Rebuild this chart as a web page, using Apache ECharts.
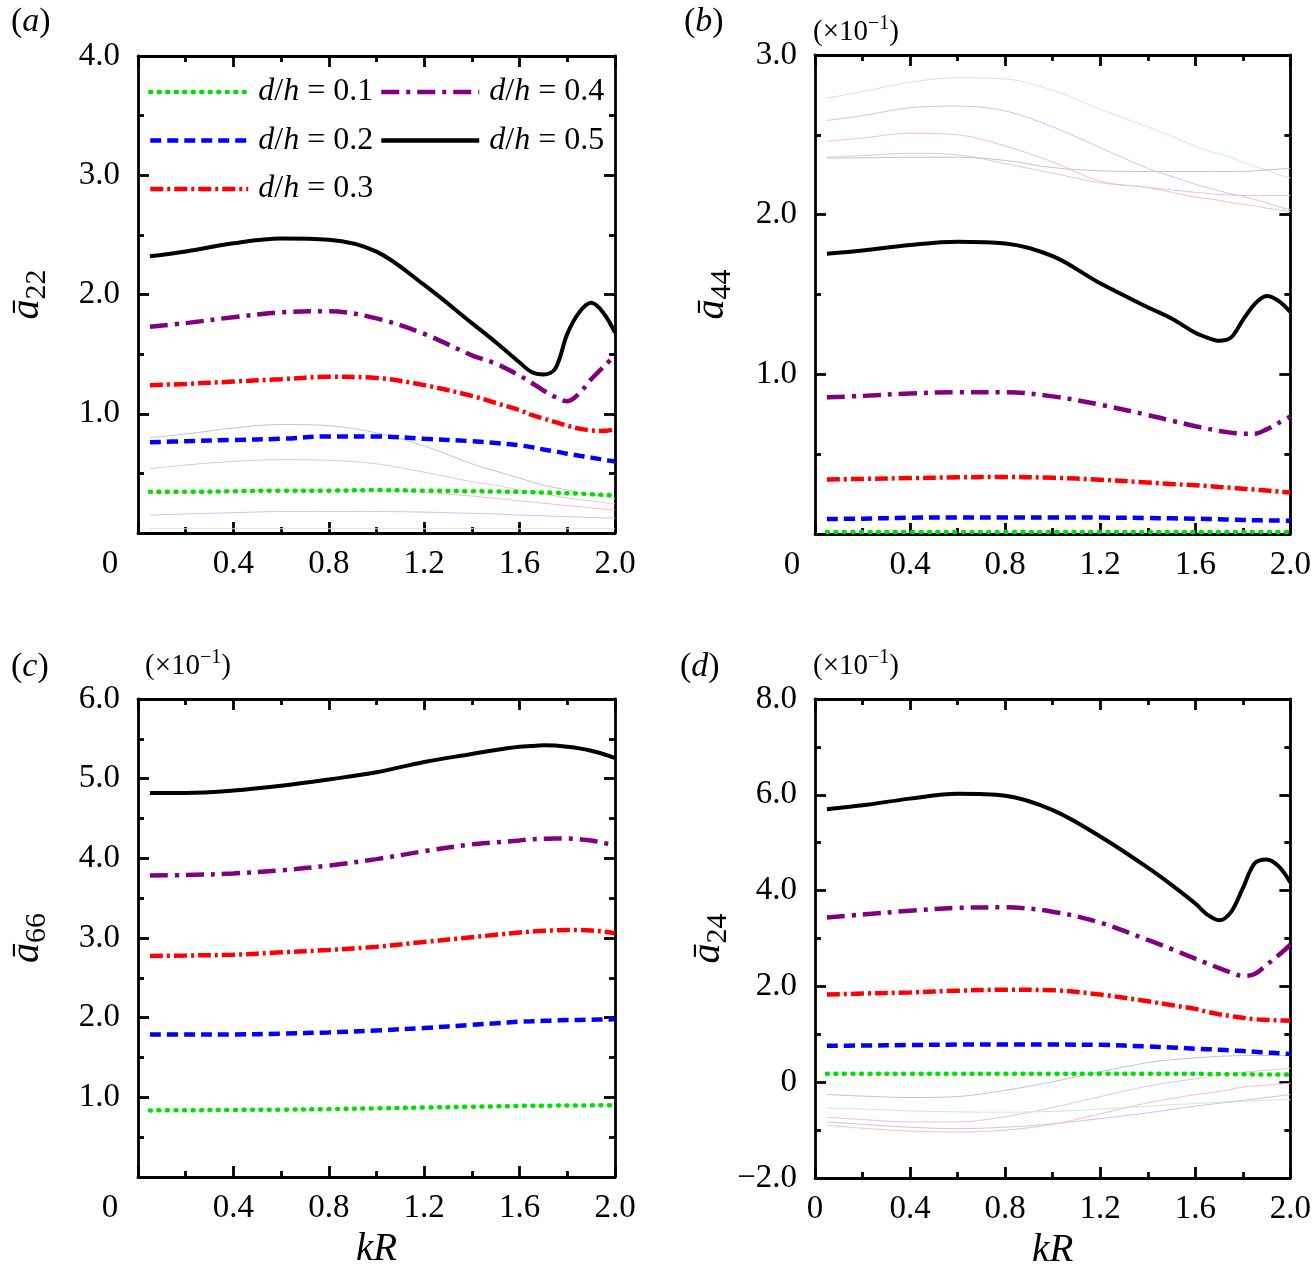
<!DOCTYPE html>
<html>
<head>
<meta charset="UTF-8">
<title>added mass coefficients vs kR</title>
<script src="https://cdn.jsdelivr.net/npm/echarts@6/dist/echarts.min.js"></script>
<style>
  html, body { margin: 0; padding: 0; background: #fff; }
  #main { width: 1314px; height: 1277px; }
</style>
</head>
<body>
<div id="main"></div>
<script>
// kR sample points shared by every curve
var kR = [0.05, 0.2, 0.4, 0.6, 0.8, 1.0, 1.2, 1.4, 1.5, 1.6, 1.65, 1.7, 1.75, 1.8, 1.85, 1.9, 1.95, 2.0];

// (a) a22
var a22_d01 = [0.345, 0.345, 0.35, 0.355, 0.355, 0.36, 0.355, 0.35, 0.348, 0.345, 0.342, 0.34, 0.337, 0.334, 0.33, 0.325, 0.32, 0.315];
var a22_d02 = [0.76, 0.77, 0.78, 0.79, 0.81, 0.81, 0.79, 0.77, 0.755, 0.735, 0.72, 0.70, 0.685, 0.665, 0.648, 0.632, 0.615, 0.60];
var a22_d03 = [1.24, 1.25, 1.27, 1.29, 1.31, 1.30, 1.24, 1.15, 1.09, 1.03, 0.99, 0.96, 0.93, 0.90, 0.875, 0.86, 0.855, 0.87];
var a22_d04 = [1.73, 1.76, 1.81, 1.85, 1.86, 1.80, 1.67, 1.49, 1.42, 1.32, 1.26, 1.195, 1.14, 1.105, 1.17, 1.29, 1.39, 1.49];
var a22_d05 = [2.32, 2.36, 2.43, 2.47, 2.46, 2.36, 2.08, 1.76, 1.60, 1.43, 1.35, 1.33, 1.38, 1.67, 1.85, 1.93, 1.85, 1.68];
// faint traces visible in (a)
var a22_gk = [0.80, 0.83, 0.88, 0.91, 0.90, 0.84, 0.73, 0.58, 0.52, 0.46, 0.43, 0.40, 0.38, 0.36, 0.34, 0.32, 0.305, 0.29];
var a22_gp = [0.54, 0.57, 0.60, 0.615, 0.61, 0.58, 0.51, 0.43, 0.40, 0.36, 0.345, 0.33, 0.31, 0.295, 0.28, 0.27, 0.255, 0.245];
var a22_gr = [0.33, 0.34, 0.35, 0.36, 0.36, 0.36, 0.34, 0.31, 0.29, 0.27, 0.26, 0.25, 0.24, 0.23, 0.22, 0.21, 0.20, 0.195];
var a22_gb = [0.15, 0.16, 0.17, 0.18, 0.18, 0.18, 0.175, 0.165, 0.16, 0.15, 0.148, 0.145, 0.14, 0.137, 0.134, 0.13, 0.127, 0.125];
var a22_gg = [0.036, 0.036, 0.036, 0.036, 0.036, 0.036, 0.036, 0.036, 0.036, 0.036, 0.036, 0.036, 0.036, 0.036, 0.036, 0.036, 0.036, 0.036];

// (b) a44, x10^-1
var a44_d01 = [0.012, 0.012, 0.012, 0.012, 0.012, 0.012, 0.012, 0.012, 0.012, 0.012, 0.012, 0.012, 0.012, 0.012, 0.012, 0.012, 0.012, 0.012];
var a44_d02 = [0.094, 0.096, 0.102, 0.104, 0.104, 0.104, 0.103, 0.10, 0.098, 0.096, 0.094, 0.092, 0.09, 0.088, 0.086, 0.085, 0.084, 0.083];
var a44_d03 = [0.341, 0.345, 0.35, 0.355, 0.357, 0.352, 0.34, 0.322, 0.313, 0.305, 0.30, 0.295, 0.29, 0.284, 0.278, 0.272, 0.266, 0.26];
var a44_d04 = [0.856, 0.865, 0.88, 0.888, 0.888, 0.862, 0.81, 0.745, 0.71, 0.675, 0.66, 0.645, 0.635, 0.628, 0.628, 0.655, 0.695, 0.736];
var a44_d05 = [1.755, 1.775, 1.81, 1.83, 1.82, 1.74, 1.57, 1.42, 1.35, 1.26, 1.23, 1.21, 1.23, 1.34, 1.44, 1.49, 1.46, 1.39];
var a44_gg = [2.73, 2.77, 2.83, 2.857, 2.85, 2.78, 2.66, 2.55, 2.49, 2.43, 2.40, 2.38, 2.36, 2.33, 2.30, 2.28, 2.25, 2.23];
var a44_gb = [2.59, 2.62, 2.67, 2.68, 2.65, 2.55, 2.42, 2.29, 2.24, 2.19, 2.17, 2.15, 2.13, 2.115, 2.095, 2.075, 2.05, 2.03];
var a44_gr = [2.46, 2.48, 2.51, 2.50, 2.43, 2.33, 2.21, 2.17, 2.14, 2.11, 2.10, 2.09, 2.075, 2.065, 2.055, 2.04, 2.03, 2.02];
var a44_gp = [2.36, 2.37, 2.385, 2.375, 2.32, 2.26, 2.20, 2.172, 2.155, 2.14, 2.133, 2.127, 2.123, 2.12, 2.12, 2.12, 2.12, 2.12];
var a44_gk = [2.354, 2.356, 2.36, 2.36, 2.34, 2.295, 2.275, 2.27, 2.27, 2.27, 2.27, 2.27, 2.27, 2.27, 2.275, 2.28, 2.285, 2.29];

// (c) a66, x10^-1
var a66_d01 = [0.836, 0.838, 0.842, 0.845, 0.852, 0.862, 0.872, 0.882, 0.887, 0.892, 0.894, 0.895, 0.896, 0.897, 0.898, 0.899, 0.90, 0.90];
var a66_d02 = [1.79, 1.79, 1.79, 1.80, 1.815, 1.84, 1.87, 1.91, 1.93, 1.95, 1.955, 1.96, 1.965, 1.97, 1.972, 1.975, 1.977, 1.98];
var a66_d03 = [2.774, 2.78, 2.79, 2.82, 2.85, 2.89, 2.95, 3.01, 3.04, 3.07, 3.08, 3.09, 3.095, 3.10, 3.10, 3.095, 3.08, 3.06];
var a66_d04 = [3.784, 3.79, 3.81, 3.85, 3.91, 3.99, 4.09, 4.175, 4.20, 4.225, 4.24, 4.245, 4.25, 4.25, 4.24, 4.225, 4.195, 4.16];
var a66_d05 = [4.82, 4.82, 4.85, 4.91, 4.99, 5.08, 5.21, 5.31, 5.36, 5.40, 5.41, 5.42, 5.415, 5.40, 5.38, 5.35, 5.31, 5.26];

// (d) a24, x10^-1
var a24_d01 = [0.175, 0.175, 0.175, 0.175, 0.175, 0.175, 0.175, 0.175, 0.175, 0.175, 0.172, 0.17, 0.167, 0.165, 0.163, 0.162, 0.161, 0.16];
var a24_d02 = [0.76, 0.765, 0.775, 0.785, 0.785, 0.785, 0.78, 0.745, 0.725, 0.70, 0.69, 0.678, 0.665, 0.65, 0.635, 0.62, 0.605, 0.59];
var a24_d03 = [1.83, 1.85, 1.875, 1.91, 1.93, 1.92, 1.83, 1.69, 1.61, 1.53, 1.47, 1.42, 1.38, 1.345, 1.315, 1.30, 1.29, 1.285];
var a24_d04 = [3.44, 3.50, 3.58, 3.64, 3.65, 3.56, 3.33, 2.97, 2.78, 2.58, 2.48, 2.38, 2.29, 2.22, 2.26, 2.45, 2.65, 2.87];
var a24_d05 = [5.70, 5.78, 5.92, 6.02, 5.98, 5.68, 5.13, 4.48, 4.12, 3.73, 3.50, 3.38, 3.55, 4.05, 4.57, 4.65, 4.51, 4.17];
var a24_gk = [-0.256, -0.29, -0.32, -0.30, -0.17, 0.01, 0.22, 0.41, 0.47, 0.51, 0.525, 0.54, 0.55, 0.555, 0.56, 0.56, 0.56, 0.56];
var a24_gp = [-0.73, -0.78, -0.83, -0.83, -0.72, -0.53, -0.30, -0.08, 0.0, 0.07, 0.11, 0.15, 0.18, 0.21, 0.23, 0.25, 0.27, 0.29];
var a24_gg = [-0.54, -0.56, -0.60, -0.62, -0.625, -0.61, -0.56, -0.50, -0.47, -0.445, -0.43, -0.42, -0.41, -0.40, -0.39, -0.38, -0.37, -0.365];
var a24_gb = [-0.83, -0.88, -0.94, -0.97, -0.94, -0.87, -0.76, -0.64, -0.57, -0.50, -0.47, -0.44, -0.41, -0.38, -0.35, -0.32, -0.29, -0.256];
var a24_gr = [-0.90, -0.96, -1.02, -1.04, -1.00, -0.88, -0.66, -0.43, -0.34, -0.26, -0.23, -0.19, -0.15, -0.10, -0.08, -0.06, -0.04, -0.02];

var dhNames = ['0.1', '0.2', '0.3', '0.4', '0.5'];

var FONT = "'Liberation Serif', 'Times New Roman', serif";

var lineStyles = [
  { color: '#00e000', width: 4.5, type: [1, 7.5], cap: 'round' },
  { color: '#0000ff', width: 4.5, type: [11, 6] },
  { color: '#ff0000', width: 4.5, type: [13, 4, 3, 4] },
  { color: '#800080', width: 4.5, type: [18, 7, 4, 7] },
  { color: '#000000', width: 4, type: 'solid' }
];
var ghostColors = { k: '#c4c4c4', p: '#e2c4e6', r: '#ffbcbc', b: '#c4c4ff', g: '#c4f2c4' };

var chartDom = document.getElementById('main');
var myChart = echarts.init(chartDom);

function pairs(vals) {
  return kR.map(function (x, i) { return [x, vals[i]]; });
}

function mainLine(gi, k, vals) {
  return {
    name: dhNames[k], type: 'line', xAxisIndex: gi * 2, yAxisIndex: gi * 2,
    data: pairs(vals), symbol: 'none', smooth: 0.35, clip: false, z: 4,
    lineStyle: lineStyles[k], itemStyle: { color: lineStyles[k].color }, silent: true
  };
}

function ghostLine(gi, c, vals) {
  return {
    type: 'line', xAxisIndex: gi * 2, yAxisIndex: gi * 2,
    data: pairs(vals), symbol: 'none', smooth: 0.35, clip: false, z: 2, silent: true,
    lineStyle: { color: ghostColors[c], width: 1 }
  };
}

var axisLineStyle = { color: '#000', width: 2.8 };

function xAxisPair(gi, zeroPad, withName) {
  var base = {
    gridIndex: gi, type: 'value', min: 0, max: 2, interval: 0.4,
    axisLine: { onZero: false, lineStyle: axisLineStyle },
    axisTick: { inside: true, length: 11, lineStyle: axisLineStyle },
    minorTick: { show: true, splitNumber: 2, length: 6, lineStyle: axisLineStyle },
    splitLine: { show: false }
  };
  var bottom = Object.assign({}, base, {
    position: 'bottom',
    axisLabel: {
      margin: 15, color: '#000', fontSize: 33, fontFamily: FONT,
      showMinLabel: true, showMaxLabel: true,
      formatter: function (v) {
        if (Math.abs(v) < 1e-9) return zeroPad ? '{z|0}' : '0';
        return v.toFixed(1);
      },
      rich: { z: { fontSize: 33, fontFamily: FONT, color: '#000', padding: [0, zeroPad, 0, 0] } }
    }
  });
  if (withName) {
    bottom.name = '{i|kR}';
    bottom.nameLocation = 'middle';
    bottom.nameGap = 53;
    bottom.nameTextStyle = { rich: { i: { fontStyle: 'italic', fontSize: 39, fontFamily: FONT, color: '#000' } } };
  }
  var top = Object.assign({}, base, { position: 'top', axisLabel: { show: false } });
  return [bottom, top];
}

function yAxisPair(gi, min, max, step, showZero, sub, gap) {
  var base = {
    gridIndex: gi, type: 'value', min: min, max: max, interval: step,
    axisLine: { onZero: false, lineStyle: axisLineStyle },
    axisTick: { inside: true, length: 11, lineStyle: axisLineStyle },
    minorTick: { show: true, splitNumber: 2, length: 6, lineStyle: axisLineStyle },
    splitLine: { show: false }
  };
  var left = Object.assign({}, base, {
    position: 'left',
    name: '{a|\u0101}{s|' + sub + '}',
    nameLocation: 'middle', nameGap: gap, nameRotate: 90,
    nameTextStyle: {
      rich: {
        a: { fontStyle: 'italic', fontSize: 40, fontFamily: FONT, color: '#000', lineHeight: 50 },
        s: { fontSize: 30, fontFamily: FONT, color: '#000', verticalAlign: 'bottom', lineHeight: 50 }
      }
    },
    axisLabel: {
      margin: 18, color: '#000', fontSize: 33, fontFamily: FONT,
      showMinLabel: true, showMaxLabel: true,
      formatter: function (v) {
        if (Math.abs(v) < 1e-9) return showZero ? '0' : '';
        return v < 0 ? '\u2212' + Math.abs(v).toFixed(1) : v.toFixed(1);
      }
    }
  });
  var right = Object.assign({}, base, { position: 'right', axisLabel: { show: false } });
  return [left, right];
}

var panelText = { fontSize: 34, fontWeight: 'normal', fontFamily: FONT, color: '#000',
  rich: { i: { fontStyle: 'italic', fontSize: 34, fontFamily: FONT, color: '#000' } } };
var scaleText = { fontSize: 29, fontWeight: 'normal', fontFamily: FONT, color: '#000',
  rich: {
    n: { fontSize: 29, fontFamily: FONT, color: '#000' },
    s: { fontSize: 20, fontFamily: FONT, color: '#000', padding: [0, 0, 16, 0] }
  } };

var legendText = { fontSize: 32, fontFamily: FONT, color: '#000', lineHeight: 34, padding: [0, 0, 0, 5],
  rich: { i: { fontStyle: 'italic', fontSize: 32, fontFamily: FONT, color: '#000' } } };
function dhLabel(name) { return '{i|d}/{i|h} = ' + name; }

var legendBase = {
  orient: 'vertical', top: 75, padding: 0,
  itemWidth: 98, itemHeight: 14, itemGap: 14.5, selectedMode: false,
  itemStyle: { opacity: 0 },
  lineStyle: { width: 4.5 },
  formatter: dhLabel, textStyle: legendText
};

var option = {
  animation: false,
  backgroundColor: '#fff',
  title: [
    { text: '({i|a})', left: 11, top: 5, padding: 0, textStyle: panelText },
    { text: '({i|b})', left: 684, top: 5, padding: 0, textStyle: panelText },
    { text: '({i|c})', left: 11, top: 650, padding: 0, textStyle: panelText },
    { text: '({i|d})', left: 680, top: 650, padding: 0, textStyle: panelText },
    { text: '{n|(\u00d710}{s|\u22121}{n|)}', left: 813, top: 14, padding: 0, textStyle: scaleText },
    { text: '{n|(\u00d710}{s|\u22121}{n|)}', left: 145, top: 648, padding: 0, textStyle: scaleText },
    { text: '{n|(\u00d710}{s|\u22121}{n|)}', left: 813, top: 648, padding: 0, textStyle: scaleText }
  ],
  legend: [
    Object.assign({}, legendBase, { data: dhNames.slice(0, 3), left: 148 }),
    Object.assign({}, legendBase, { data: dhNames.slice(3), left: 379 })
  ],
  grid: [
    { left: 138, top: 56, width: 477, height: 477 },
    { left: 815, top: 55, width: 480, height: 479 },
    { left: 138, top: 699, width: 477, height: 478 },
    { left: 815, top: 699, width: 480, height: 479 }
  ],
  xAxis: [].concat(
    xAxisPair(0, 56, false),
    xAxisPair(1, 46, false),
    xAxisPair(2, 56, true),
    xAxisPair(3, 0, true)
  ),
  yAxis: [].concat(
    yAxisPair(0, 0, 4, 1, false, '22', 86),
    yAxisPair(1, 0, 3, 1, false, '44', 78),
    yAxisPair(2, 0, 6, 1, false, '66', 86),
    yAxisPair(3, -2, 8, 2, true, '24', 78)
  ),
  series: [
    ghostLine(0, 'k', a22_gk), ghostLine(0, 'p', a22_gp), ghostLine(0, 'r', a22_gr),
    ghostLine(0, 'b', a22_gb), ghostLine(0, 'g', a22_gg),
    mainLine(0, 0, a22_d01), mainLine(0, 1, a22_d02), mainLine(0, 2, a22_d03),
    mainLine(0, 3, a22_d04), mainLine(0, 4, a22_d05),

    ghostLine(1, 'g', a44_gg), ghostLine(1, 'b', a44_gb), ghostLine(1, 'r', a44_gr),
    ghostLine(1, 'p', a44_gp), ghostLine(1, 'k', a44_gk),
    mainLine(1, 0, a44_d01), mainLine(1, 1, a44_d02), mainLine(1, 2, a44_d03),
    mainLine(1, 3, a44_d04), mainLine(1, 4, a44_d05),

    mainLine(2, 0, a66_d01), mainLine(2, 1, a66_d02), mainLine(2, 2, a66_d03),
    mainLine(2, 3, a66_d04), mainLine(2, 4, a66_d05),

    ghostLine(3, 'k', a24_gk), ghostLine(3, 'p', a24_gp), ghostLine(3, 'g', a24_gg),
    ghostLine(3, 'b', a24_gb), ghostLine(3, 'r', a24_gr),
    mainLine(3, 0, a24_d01), mainLine(3, 1, a24_d02), mainLine(3, 2, a24_d03),
    mainLine(3, 3, a24_d04), mainLine(3, 4, a24_d05)
  ]
};

option && myChart.setOption(option);
</script>
</body>
</html>
